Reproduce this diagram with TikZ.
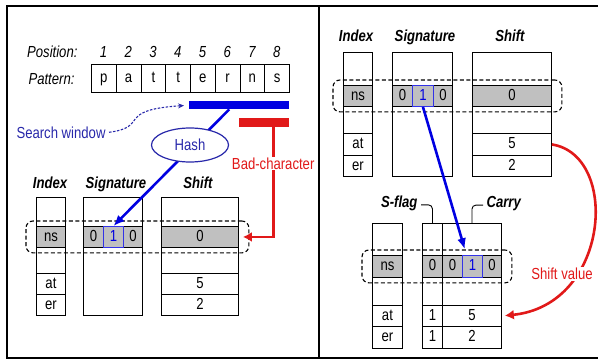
\documentclass[tikz,border=0pt]{standalone}
\usepackage{fontspec}
\setmainfont{Liberation Sans}[FakeStretch=0.82]
\usetikzlibrary{positioning, arrows.meta, shapes.geometric, fit}

\definecolor{winblue}{RGB}{0,0,225}
\definecolor{txtblue}{RGB}{40,40,170}
\definecolor{badred}{RGB}{225,25,25}
\definecolor{rowgray}{RGB}{192,192,192}

\begin{document}
\begin{tikzpicture}[x=1pt, y=-1pt,
  font=\fontsize{16}{18}\selectfont,
  cell/.style={draw, line width=0.9pt, anchor=north west, inner sep=0pt,
    text height=11.5pt, text depth=2.5pt},
  head/.style={anchor=base, font=\fontsize{16}{18}\selectfont\bfseries\itshape},
  lbl/.style={anchor=base, font=\fontsize{16}{18}\selectfont\itshape},
  bar/.style={anchor=north west, inner sep=0pt, minimum height=8pt},
  selbox/.style={draw, dashed, dash pattern=on 4pt off 2.5pt, line width=1.1pt,
    rounded corners=7pt, inner xsep=10pt, inner ysep=5pt},
  hashline/.style={-{Latex[length=11pt,width=9pt]}, line width=2.6pt, winblue},
  badline/.style={-{Latex[length=9pt,width=10pt]}, line width=2.6pt, badred},
  hook/.style={line width=0.9pt, rounded corners=4pt},
]
  \useasboundingbox (0,0) rectangle (598,362);

  % frame and divider
  \draw[line width=1.6pt] (600,6) -- (7,6) -- (7,358) -- (600,358);
  \draw[line width=1.6pt] (319,6) -- (319,358);

  % pattern with positions
  \node[lbl, anchor=base east] (postxt) at (81,57) {Position:};
  \node[lbl, anchor=base east] (pattxt) at (78,84) {Pattern:};
  \foreach \l [count=\i] in {p,a,t,t,e,r,n,s} {
    \node[cell, minimum width=24.75, minimum height=28] (pat\i) at ({91+24.75*(\i-1)},64) {\l};
    \node[lbl] (pos\i) at ({103.4+24.75*(\i-1)},57) {\i};
  }

  % window and bad-character bars
  \node[bar, fill=winblue, minimum width=100] (win) at (189,101) {};
  \node[bar, fill=badred, minimum width=50, minimum height=9] (bad) at (239,118) {};
  \node[anchor=base west, text=txtblue] (sw) at (13,138) {Search window};
  \draw[dashed, dash pattern=on 2.5pt off 1.5pt, txtblue, line width=1.1pt,
    -{Stealth[length=6pt,width=5pt]}, shorten >=5pt]
    (sw.east) .. controls (150,127) and (115,110) .. (win.west);

  % left tables
  \node[head] (lihd) at (50,188) {Index};
  \node[head] (lshd) at (116,188) {Signature};
  \node[head] (lhhd) at (198,188) {Shift};
  \foreach \t/\s/\y/\h/\c [count=\i] in {{}/{}/197/29/white, ns/0/226/21/rowgray,
      {}/{}/247/26/white, at/5/273/21/white, er/2/294/21/white} {
    \node[cell, fill=\c, minimum width=29, minimum height=\h] (li\i) at (36,\y) {\t};
    \node[cell, fill=\c, minimum width=77, minimum height=\h] (lh\i) at (161,\y) {\s};
  }
  \node[cell, minimum width=59, minimum height=118] (ls) at (83,197) {};
  \node[cell, fill=rowgray, minimum width=20, minimum height=21] (ls0a) at (83,226) {0};
  \node[cell, fill=rowgray, minimum width=19, minimum height=21] (ls0b) at (123,226) {0};
  \node[cell, fill=rowgray, draw=winblue!80, text=winblue, minimum width=20,
    minimum height=21] (lsbit) at (103,226) {1};
  \node[selbox, fit=(li2)(lh2)] (lsel) {};

  % hash and bad-character links
  \draw[hashline] ([xshift=-10pt]win.south) -- (lsbit.north);
  \node[ellipse, draw=txtblue, line width=1.2pt, fill=white, text=txtblue,
    minimum width=77, minimum height=34, inner sep=1pt] (hash) at (190,145) {Hash};
  \draw[badline, shorten >=4pt] ([xshift=9pt]bad.south) |- (lh2.east)
    node[pos=0.165, fill=white, inner sep=1pt, text=badred] (badtxt) {Bad-character};

  % right upper tables
  \node[head] (rihd) at (356,41) {Index};
  \node[head] (rshd) at (425,41) {Signature};
  \node[head] (rhhd) at (510,41) {Shift};
  \foreach \t/\s/\y/\h/\c [count=\i] in {{}/{}/52/33/white, ns/0/85/21/rowgray,
      {}/{}/106/27/white, at/5/133/22/white, er/2/155/21/white} {
    \node[cell, fill=\c, minimum width=29, minimum height=\h] (ri\i) at (343,\y) {\t};
    \node[cell, fill=\c, minimum width=79, minimum height=\h] (rh\i) at (472,\y) {\s};
  }
  \node[cell, minimum width=60, minimum height=124] (rs) at (392,52) {};
  \node[cell, fill=rowgray, minimum width=20, minimum height=21] (rs0a) at (392,85) {0};
  \node[cell, fill=rowgray, minimum width=19, minimum height=21] (rs0b) at (433,85) {0};
  \node[cell, fill=rowgray, draw=winblue!80, text=winblue, minimum width=21,
    minimum height=21] (rsbit) at (412,85) {1};
  \node[selbox, fit=(ri2)(rh2)] (rsel) {};

  % lower table with s-flag and carry
  \node[head, anchor=base east] (sflag) at (421,207) {S-flag};
  \node[head, anchor=base west] (carry) at (483,207) {Carry};
  \foreach \t/\f/\s/\y/\h/\c [count=\i] in {{}/{}/{}/223/32/white, ns/0/{}/255/22/rowgray,
      {}/{}/{}/277/28/white, at/1/5/305/21/white, er/1/2/326/22/white} {
    \node[cell, fill=\c, minimum width=30, minimum height=\h] (di\i) at (372,\y) {\t};
    \node[cell, fill=\c, minimum width=20, minimum height=\h] (df\i) at (422,\y) {\f};
    \node[cell, fill=\c, minimum width=59, minimum height=\h] (dm\i) at (442,\y) {\s};
  }
  \node[cell, fill=rowgray, minimum width=20, minimum height=22] (dm0a) at (442,255) {0};
  \node[cell, fill=rowgray, minimum width=19, minimum height=22] (dm0b) at (482,255) {0};
  \node[cell, fill=rowgray, draw=winblue!80, text=winblue, minimum width=20,
    minimum height=22] (dmbit) at (462,255) {1};
  \node[selbox, fit=(di2)(dm2)] (dsel) {};
  \draw[hook] ([yshift=-2pt]sflag.east) -| (df1.north);
  \draw[hook] ([yshift=-2pt]carry.west) -| (dm1.north);

  % carry link and shift value
  \draw[hashline, shorten >=6pt] (rsbit.south) -- ([xshift=-6pt]dmbit.north);
  \draw[badline, shorten >=3pt] (rh4.east) .. controls (620,155) and (610,305) .. (dm4.east);
  \node[fill=white, inner sep=1pt, text=badred] (shv) at (562,274) {Shift value};
\end{tikzpicture}
\end{document}
